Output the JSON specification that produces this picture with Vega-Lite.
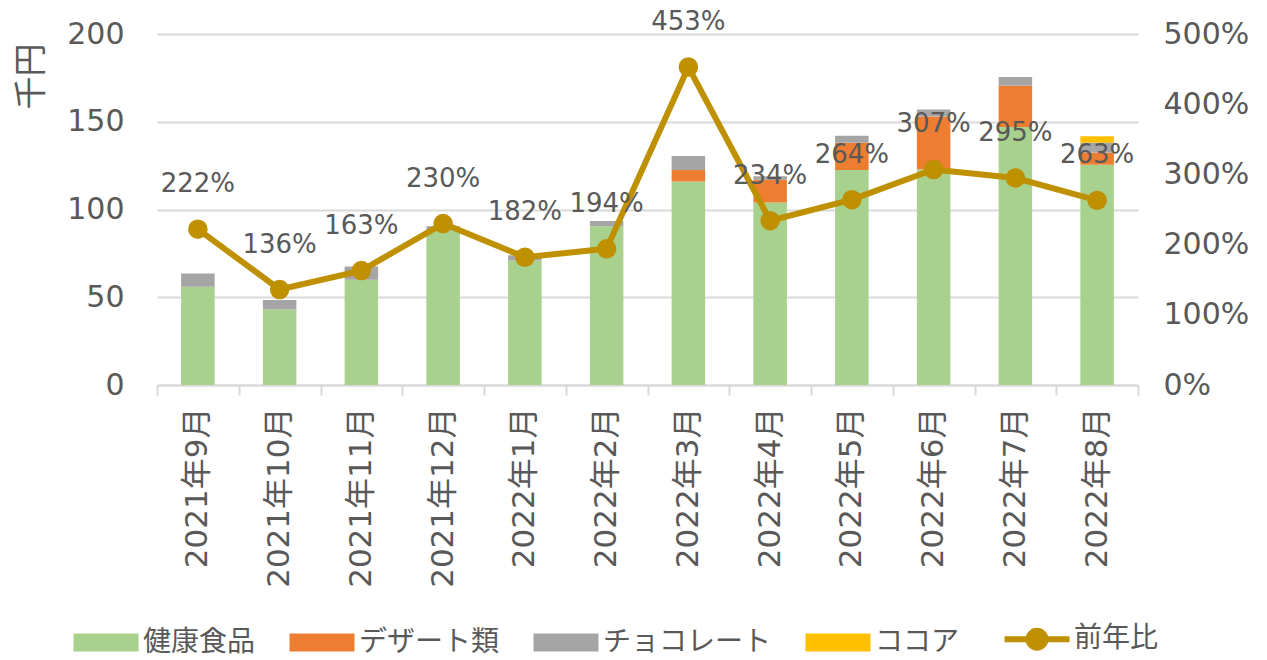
{
  "$schema": "https://vega.github.io/schema/vega-lite/v6.json",
  "autosize": {"type": "none"},
  "width": 981,
  "height": 351,
  "padding": {"left": 157, "top": 34, "right": 129, "bottom": 275},
  "background": "white",
  "config": {
    "font": "DejaVu Sans, Noto Sans CJK JP",
    "view": {"stroke": null},
    "axis": {"labelColor": "#595959", "titleColor": "#595959", "labelFont": "DejaVu Sans, Noto Sans CJK JP", "titleFont": "Noto Sans CJK JP"}
  },
  "datasets": {
    "bars": [
      {"month": "2021年9月", "cat": "健康食品", "value": 56},
      {"month": "2021年9月", "cat": "チョコレート", "value": 7.5},
      {"month": "2021年10月", "cat": "健康食品", "value": 43},
      {"month": "2021年10月", "cat": "チョコレート", "value": 5.5},
      {"month": "2021年11月", "cat": "健康食品", "value": 60},
      {"month": "2021年11月", "cat": "チョコレート", "value": 7.5},
      {"month": "2021年12月", "cat": "健康食品", "value": 88},
      {"month": "2021年12月", "cat": "チョコレート", "value": 2.5},
      {"month": "2022年1月", "cat": "健康食品", "value": 71},
      {"month": "2022年1月", "cat": "チョコレート", "value": 3},
      {"month": "2022年2月", "cat": "健康食品", "value": 90.5},
      {"month": "2022年2月", "cat": "チョコレート", "value": 3},
      {"month": "2022年3月", "cat": "健康食品", "value": 116},
      {"month": "2022年3月", "cat": "デザート類", "value": 6.5},
      {"month": "2022年3月", "cat": "チョコレート", "value": 8},
      {"month": "2022年4月", "cat": "健康食品", "value": 104},
      {"month": "2022年4月", "cat": "デザート類", "value": 13},
      {"month": "2022年4月", "cat": "チョコレート", "value": 2},
      {"month": "2022年5月", "cat": "健康食品", "value": 122.5},
      {"month": "2022年5月", "cat": "デザート類", "value": 15.5},
      {"month": "2022年5月", "cat": "チョコレート", "value": 4},
      {"month": "2022年6月", "cat": "健康食品", "value": 123},
      {"month": "2022年6月", "cat": "デザート類", "value": 30},
      {"month": "2022年6月", "cat": "チョコレート", "value": 4},
      {"month": "2022年7月", "cat": "健康食品", "value": 147},
      {"month": "2022年7月", "cat": "デザート類", "value": 23.5},
      {"month": "2022年7月", "cat": "チョコレート", "value": 5},
      {"month": "2022年8月", "cat": "健康食品", "value": 125.5},
      {"month": "2022年8月", "cat": "デザート類", "value": 7},
      {"month": "2022年8月", "cat": "チョコレート", "value": 5.5},
      {"month": "2022年8月", "cat": "ココア", "value": 3.8}
    ],
    "yoy": [
      {"month": "2021年9月", "cat": "前年比", "ratio": 2.22},
      {"month": "2021年10月", "cat": "前年比", "ratio": 1.36},
      {"month": "2021年11月", "cat": "前年比", "ratio": 1.63},
      {"month": "2021年12月", "cat": "前年比", "ratio": 2.30},
      {"month": "2022年1月", "cat": "前年比", "ratio": 1.82},
      {"month": "2022年2月", "cat": "前年比", "ratio": 1.94},
      {"month": "2022年3月", "cat": "前年比", "ratio": 4.53},
      {"month": "2022年4月", "cat": "前年比", "ratio": 2.34},
      {"month": "2022年5月", "cat": "前年比", "ratio": 2.64},
      {"month": "2022年6月", "cat": "前年比", "ratio": 3.07},
      {"month": "2022年7月", "cat": "前年比", "ratio": 2.95},
      {"month": "2022年8月", "cat": "前年比", "ratio": 2.63}
    ]
  },
  "encoding": {
    "x": {
      "field": "month", "type": "nominal", "sort": null,
      "scale": {"paddingInner": 0, "paddingOuter": 0},
      "axis": {
        "title": null, "labelAngle": -90, "labelAlign": "right", "labelBaseline": "middle",
        "labelFontSize": 31, "labelPadding": 12, "tickBand": "extent",
        "tickColor": "#D9D9D9", "tickWidth": 2, "tickSize": 10,
        "domainColor": "#D9D9D9", "domainWidth": 2, "labelLimit": 300
      }
    }
  },
  "layer": [
    {
      "data": {"name": "bars"},
      "transform": [
        {"calculate": "indexof(['健康食品','デザート類','チョコレート','ココア'], datum.cat)", "as": "ord"}
      ],
      "mark": {"type": "bar", "width": {"band": 0.41}},
      "encoding": {
        "y": {
          "field": "value", "type": "quantitative", "stack": "zero",
          "scale": {"domain": [0, 200], "nice": false},
          "axis": {
            "title": "千円", "titleFontSize": 33, "titleFontWeight": "normal",
            "titleAngle": -90, "titleAlign": "center", "titleBaseline": "middle",
            "titleX": -126, "titleY": 42,
            "values": [0, 50, 100, 150, 200], "labelFontSize": 30, "labelPadding": 33,
            "domain": false, "ticks": false, "grid": true, "gridColor": "#D9D9D9", "gridWidth": 2
          }
        },
        "color": {
          "field": "cat", "type": "nominal",
          "scale": {
            "domain": ["健康食品", "デザート類", "チョコレート", "ココア", "前年比"],
            "range": ["#A9D18E", "#ED7D31", "#A5A5A5", "#FFC000", "#BF9000"]
          },
          "legend": {
            "title": null, "orient": "none", "direction": "horizontal",
            "legendX": -85, "legendY": 591,
            "labelFont": "Noto Sans CJK JP", "labelFontSize": 28, "labelColor": "#595959",
            "labelLimit": 400, "labelOffset": 23, "symbolOffset": 20, "columnPadding": 32,
            "symbolSize": 4225,
            "encode": {
              "symbols": {
                "update": {
                  "shape": {"signal": "datum.value === '前年比' ? 'M-1,0H1M0.26,0A0.26,0.26,0,1,1,-0.26,0A0.26,0.26,0,1,1,0.26,0Z' : 'M-1,-0.28H1V0.28H-1Z'"},
                  "fill": {"scale": "color", "field": "value"},
                  "stroke": {"scale": "color", "field": "value"},
                  "strokeWidth": {"signal": "datum.value === '前年比' ? 6 : 0"},
                  "opacity": {"value": 1},
                  "fillOpacity": {"value": 1},
                  "strokeOpacity": {"value": 1}
                }
              }
            }
          }
        },
        "order": {"field": "ord", "type": "quantitative"}
      }
    },
    {
      "data": {"name": "yoy"},
      "layer": [
        {
          "mark": {"type": "line", "strokeWidth": 6, "point": {"size": 380, "filled": true, "opacity": 1}},
          "encoding": {
            "y": {
              "field": "ratio", "type": "quantitative",
              "scale": {"domain": [0, 5], "nice": false},
              "axis": {
                "orient": "right", "title": null, "format": ".0%", "values": [0, 1, 2, 3, 4, 5],
                "labelFontSize": 30, "labelPadding": 25, "domain": false, "ticks": false, "grid": false
              }
            },
            "color": {"field": "cat", "type": "nominal"}
          }
        },
        {
          "mark": {"type": "text", "dy": -45, "fontSize": 26, "color": "#595959", "baseline": "middle"},
          "encoding": {
            "y": {"field": "ratio", "type": "quantitative"},
            "text": {"field": "ratio", "type": "quantitative", "format": ".0%"}
          }
        }
      ]
    }
  ],
  "resolve": {"scale": {"y": "independent"}}
}
